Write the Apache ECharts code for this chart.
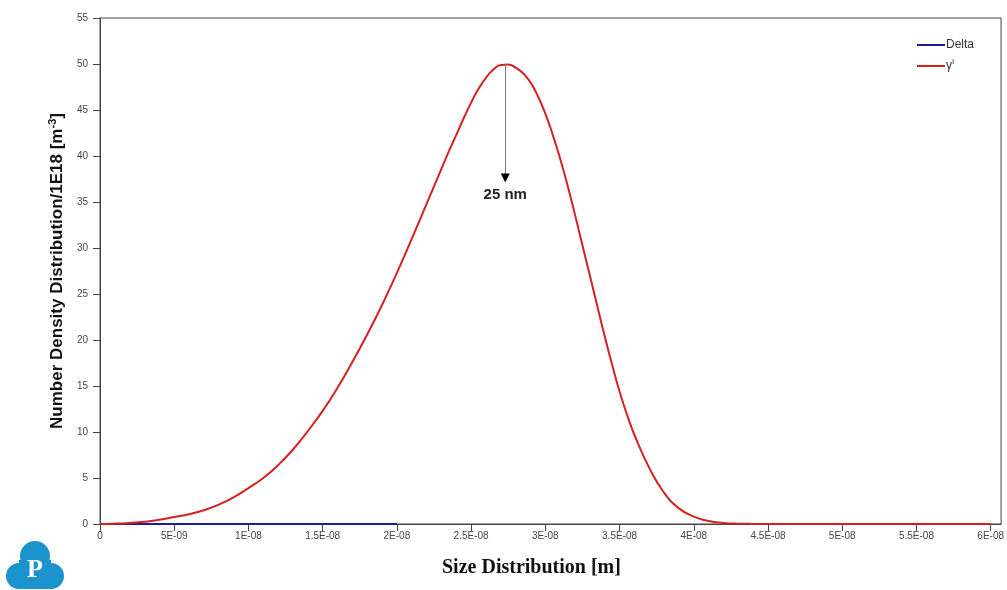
<!DOCTYPE html>
<html>
<head>
<meta charset="utf-8">
<script src="https://cdn.jsdelivr.net/npm/echarts@6/dist/echarts.min.js"></script>
<style>
  html, body { margin: 0; padding: 0; background: #fff; }
  #echarts { width: 1007px; height: 590px; }
</style>
</head>
<body>
<div id="echarts"></div>
<script>
// data (sizes in nm, values in 1E18 m^-3)
var gammaSizeNm = [0, 1, 2, 3, 4, 5, 6, 7, 8, 9, 10, 11, 12, 13, 14, 15, 16, 17, 18, 19, 20,
    21, 22, 23, 23.5, 24, 24.5, 25, 25.5, 26, 26.5, 27, 27.5, 28, 28.5, 29, 29.5, 30, 30.5, 31, 31.5, 32, 32.5,
    33, 33.5, 34, 34.5, 35, 35.5, 36, 37, 38, 39, 40, 41, 42, 43, 44, 45, 50, 55, 60];
var gammaValues = [0, 0.04, 0.12, 0.25, 0.45, 0.75, 1.05, 1.5, 2.1, 2.9, 3.9, 5.0, 6.4, 8.1, 10.1, 12.3, 14.8, 17.6, 20.6, 23.8, 27.3,
    31.0, 34.8, 38.6, 40.5, 42.3, 44.1, 45.8, 47.3, 48.5, 49.4, 49.9, 49.95, 49.6, 49.0, 48.0, 46.5, 44.6, 42.3, 39.7, 36.8, 33.6, 30.3,
    27.0, 23.7, 20.4, 17.3, 14.4, 11.9, 9.7, 6.1, 3.4, 1.7, 0.8, 0.32, 0.12, 0.04, 0.01, 0, 0, 0, 0];
var deltaSizeNm = [0, 5, 10, 15, 20];
var deltaValues = [0, 0, 0, 0, 0];
// axis runs in nm, labels are the metre values shown in the picture
var xTicks = ['0', '5E-09', '1E-08', '1.5E-08', '2E-08', '2.5E-08', '3E-08', '3.5E-08', '4E-08', '4.5E-08', '5E-08', '5.5E-08', '6E-08'];
var peakNm = 27.3;
var peakLabel = '25 nm';

function toPairs(sizes, vals) {
    return sizes.map(function (s, i) { return [s, vals[i]]; });
}

var myChart = echarts.init(document.getElementById('echarts'));

option = {
    backgroundColor: '#fff',
    animation: false,
    textStyle: { fontFamily: 'Liberation Sans, Arial, sans-serif' },
    grid: {
        left: 100, right: 5, top: 18, bottom: 66,
        show: true, borderColor: '#444', borderWidth: 1
    },
    title: {
        text: 'Size Distribution [m]',
        left: 437, top: 553,
        textStyle: { fontFamily: 'Liberation Serif, Times New Roman, serif', fontWeight: 'bold', fontSize: 20, color: '#111' }
    },
    legend: {
        orient: 'vertical',
        right: 28, top: 34,
        itemWidth: 28, itemHeight: 2, itemGap: 7,
        icon: 'rect',
        textStyle: { fontSize: 12, color: '#333', padding: [0, 0, 0, -4],
            rich: { s: { fontSize: 8, color: '#333', padding: [0, 0, 8, 0] } } },
        formatter: function (name) {
            return name === 'γ\'' ? 'γ{s|I}' : name;
        },
        data: ['Delta', 'γ\'']
    },
    xAxis: {
        type: 'value',
        min: 0, max: 60.7, interval: 5,
        splitLine: { show: false },
        axisLine: { lineStyle: { color: '#444', width: 1 } },
        axisTick: { length: 7, lineStyle: { color: '#444' } },
        axisLabel: {
            fontSize: 10, color: '#444', margin: 7, showMaxLabel: false,
            formatter: function (v) {
                var i = Math.round(v / 5);
                return Math.abs(v - i * 5) < 1e-6 ? xTicks[i] : '';
            }
        }
    },
    yAxis: {
        type: 'value',
        min: 0, max: 55, interval: 5,
        splitLine: { show: false },
        axisLine: { show: true, lineStyle: { color: '#444', width: 1 } },
        axisTick: { show: true, length: 7, lineStyle: { color: '#444' } },
        axisLabel: { fontSize: 10, color: '#444', margin: 12 },
        name: 'Number Density Distribution/1E18 [m{sup|-3}]',
        nameLocation: 'middle',
        nameGap: 28,
        nameTextStyle: {
            fontSize: 17, fontWeight: 'bold', color: '#111',
            rich: { sup: { fontSize: 11, fontWeight: 'bold', color: '#111', padding: [0, 0, 10, 0] } }
        }
    },
    series: [
        {
            name: 'Delta',
            type: 'line',
            symbol: 'none',
            data: toPairs(deltaSizeNm, deltaValues),
            lineStyle: { color: '#1c1c9c', width: 2 },
            itemStyle: { color: '#1c1c9c' },
            z: 2
        },
        {
            name: 'γ\'',
            type: 'line',
            symbol: 'none',
            smooth: true,
            data: toPairs(gammaSizeNm, gammaValues),
            lineStyle: { color: '#d42222', width: 2 },
            itemStyle: { color: '#d42222' },
            z: 3,
            markLine: {
                silent: true,
                symbol: ['none', 'none'],
                lineStyle: { color: '#777', width: 1, type: 'solid' },
                label: {
                    position: 'end', distance: 13,
                    formatter: peakLabel,
                    fontSize: 15, fontWeight: 'bold', color: '#222'
                },
                data: [[{ coord: [peakNm, 50] }, { coord: [peakNm, 38.0] }]]
            },
            markPoint: {
                silent: true,
                symbol: 'triangle',
                symbolRotate: 180,
                symbolSize: [9, 9],
                itemStyle: { color: '#000' },
                label: { show: false },
                data: [{ coord: [peakNm, 37.6] }]
            }
        }
    ],
    graphic: [
        {
            type: 'group', left: 6, top: 541,
            children: [
                { type: 'circle', shape: { cx: 29, cy: 16, r: 15 }, style: { fill: '#1b93cc' } },
                { type: 'circle', shape: { cx: 13, cy: 36, r: 13 }, style: { fill: '#1b93cc' } },
                { type: 'circle', shape: { cx: 45, cy: 36, r: 13 }, style: { fill: '#1b93cc' } },
                { type: 'rect', shape: { x: 13, y: 20, width: 32, height: 29 }, style: { fill: '#1b93cc' } },
                { type: 'text', x: 29, y: 30, style: { text: 'P', fill: '#fff', font: 'bold 26px Liberation Serif, serif', align: 'center', verticalAlign: 'middle' } }
            ]
        }
    ]
};

myChart.setOption(option);
</script>
</body>
</html>
